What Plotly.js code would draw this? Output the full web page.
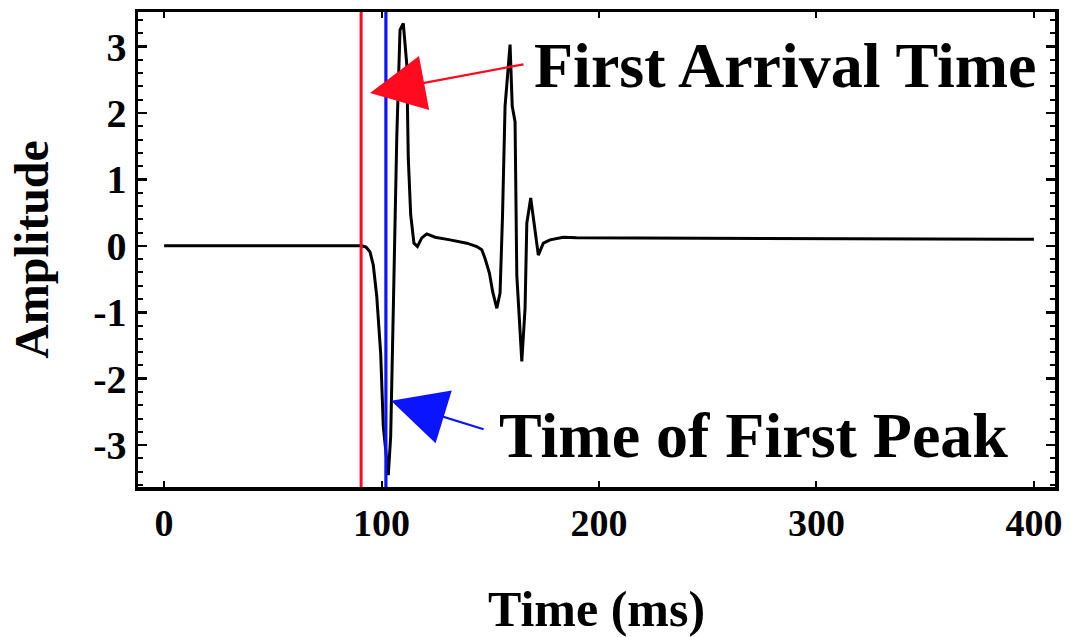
<!DOCTYPE html>
<html>
<head>
<meta charset="utf-8">
<script src="https://cdn.plot.ly/plotly-3.0.1.min.js"></script>
<style>html,body{margin:0;padding:0;background:#fff;}#chart{width:1071px;height:637px;}</style>
</head>
<body>
<div id="chart"></div>
<script>
// Waveform samples (time in ms, amplitude)
const timeMs = [0, 90.9, 92.9, 94.7, 96.2, 97.8, 99.6, 100.8, 103.1, 104.2, 105.4, 107.0, 108.5, 110.0, 111.6, 112.3, 113.4, 114.9, 116.5, 118.5, 120.8, 124.6, 131.5, 139.2, 143.8, 146.1, 147.6, 149.6, 151.1, 153.0, 154.5, 155.6, 156.8, 159.1, 160.1, 161.4, 162.2, 164.5, 166.0, 166.8, 168.6, 170.1, 172.1, 174.4, 177.5, 183.6, 189.7, 400];
const amplitude = [0, 0, -0.02, -0.09, -0.29, -0.76, -1.62, -2.72, -3.45, -2.87, -0.96, 1.63, 3.25, 3.35, 2.73, 1.32, 0.47, 0.04, -0.01, 0.12, 0.18, 0.13, 0.09, 0.04, -0.01, -0.06, -0.19, -0.41, -0.69, -0.94, -0.71, 0.42, 2.10, 3.03, 2.10, 1.87, -0.44, -1.74, -0.94, 0.34, 0.72, 0.34, -0.14, 0.04, 0.09, 0.13, 0.12, 0.10];

// Marker lines
const firstArrivalTime = 90.6;
const firstPeakTime = 102.0;

// Annotation labels
const labelArrival = "First Arrival Time";
const labelPeak = "Time of First Peak";
const xTitle = "Time (ms)";
const yTitle = "Amplitude";
const xTickVals = [0, 100, 200, 300, 400];
const yTickVals = [-3, -2, -1, 0, 1, 2, 3];

const serif = "Liberation Serif, Times New Roman, serif";
const yRange = [-3.63, 3.52];

const traces = [
  {x: timeMs, y: amplitude, type: 'scatter', mode: 'lines',
   line: {color: '#000', width: 3}, hoverinfo: 'skip'},
  {x: [firstArrivalTime, firstArrivalTime], y: yRange, type: 'scatter', mode: 'lines',
   line: {color: '#ff0a1f', width: 3}},
  {x: [firstPeakTime, firstPeakTime], y: yRange, type: 'scatter', mode: 'lines',
   line: {color: '#0a14ff', width: 3.2}}
];

const layout = {
  width: 1071, height: 637,
  margin: {l: 138, r: 16, t: 12, b: 150},
  paper_bgcolor: '#fff', plot_bgcolor: '#fff',
  showlegend: false,
  xaxis: {
    range: [-12, 409.7], tickvals: xTickVals, ticktext: xTickVals.map(String),
    ticks: 'inside', ticklen: 6, tickwidth: 2, tickcolor: '#000',
    showline: true, linecolor: '#000', linewidth: 3.5, mirror: 'ticks',
    showgrid: false, zeroline: false,
    tickfont: {family: serif, size: 38, color: '#000', weight: 700},
    title: {text: xTitle, font: {family: serif, size: 50, color: '#000', weight: 700}, standoff: 55}
  },
  yaxis: {
    range: yRange, tickvals: yTickVals, ticktext: yTickVals.map(String),
    ticks: 'inside', ticklen: 9, tickwidth: 2.5, tickcolor: '#000',
    minor: {dtick: 0.2, ticks: 'inside', ticklen: 5, tickwidth: 2, tickcolor: '#000'},
    showline: true, linecolor: '#000', linewidth: 3.5, mirror: 'ticks',
    showgrid: false, zeroline: false,
    tickfont: {family: serif, size: 40, color: '#000', weight: 700},
    title: {text: yTitle, font: {family: serif, size: 48, color: '#000', weight: 700}, standoff: 30}
  },
  annotations: [
    {x: 94.7, y: 2.30, ax: 155, ay: -29, axref: 'pixel', ayref: 'pixel',
     showarrow: true, arrowhead: 2, arrowsize: 5, arrowwidth: 2.2, arrowcolor: '#ff0a1f', text: ''},
    {x: 104.4, y: -2.33, ax: 94, ay: 29, axref: 'pixel', ayref: 'pixel',
     showarrow: true, arrowhead: 2, arrowsize: 5, arrowwidth: 2.2, arrowcolor: '#0a14ff', text: ''},
    {x: 169.2, y: 2.71, xanchor: 'left', yanchor: 'middle', showarrow: false, text: labelArrival,
     font: {family: serif, size: 64, color: '#000', weight: 700}},
    {x: 153.1, y: -2.85, xanchor: 'left', yanchor: 'middle', showarrow: false, text: labelPeak,
     font: {family: serif, size: 64, color: '#000', weight: 700}}
  ]
};

Plotly.newPlot('chart', traces, layout, {displayModeBar: false, staticPlot: true});
</script>
</body>
</html>
